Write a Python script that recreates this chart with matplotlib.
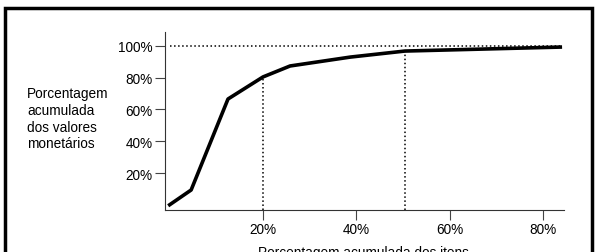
import matplotlib.pyplot as plt
from matplotlib.patches import Rectangle

plt.rcParams['font.family'] = ['Liberation Sans', 'DejaVu Sans']

# curva ABC: % acumulada dos itens x % acumulada dos valores
itens_pct = [0, 4.6, 12.5, 20, 25.8, 38.7, 50.4, 83.7]
valores_pct = [0, 9.3, 66.6, 80.5, 87.4, 93, 96.8, 99.3]

x_ticks = [20, 40, 60, 80]
y_ticks = [20, 40, 60, 80, 100]

fig = plt.figure(figsize=(5.97, 2.53), dpi=100)
ax = fig.add_axes([165 / 597, 1 - 211 / 253, 399 / 597, 178 / 253])

ax.plot(itens_pct, valores_pct, color='black', lw=2.6, solid_joinstyle='round', zorder=3)

# linhas pontilhadas de referencia
ax.plot([0, 84], [100, 100], color='black', ls=':', lw=1.1)
ax.plot([20, 20], [-3.3, 80.5], color='black', ls=':', lw=1.1)
ax.plot([50.4, 50.4], [-3.3, 96.8], color='black', ls=':', lw=1.1)

ax.set_xlim(-1, 84.5)
ax.set_ylim(-3.3, 108.8)
ax.set_xticks(x_ticks)
ax.set_xticklabels([f"{v}%" for v in x_ticks])
ax.set_yticks(y_ticks)
ax.set_yticklabels([f"{v}%" for v in y_ticks])
ax.tick_params(axis='both', labelsize=9.8, color='#444444', width=0.8)
ax.tick_params(axis='x', length=7, pad=2)
ax.tick_params(axis='y', length=7, pad=2)

for s in ['top', 'right']:
    ax.spines[s].set_visible(False)
for s in ['left', 'bottom']:
    ax.spines[s].set_color('#333333')
    ax.spines[s].set_linewidth(0.8)

fig.text(27 / 597, 1 - 87 / 253, "Porcentagem\nacumulada\ndos valores\nmonetários",
         fontsize=9.8, va='top', ha='left', linespacing=1.25)
fig.text(363 / 597, 1 - 246 / 253, "Porcentagem acumulada dos itens",
         fontsize=9.8, va='top', ha='center')

# moldura preta em volta
fig.patches.append(Rectangle((5 / 597, -0.1), 587 / 597, 1.1 - 9 / 253,
                             transform=fig.transFigure, fill=False,
                             edgecolor='black', lw=2.5))

fig.savefig("out.png", dpi=100)
